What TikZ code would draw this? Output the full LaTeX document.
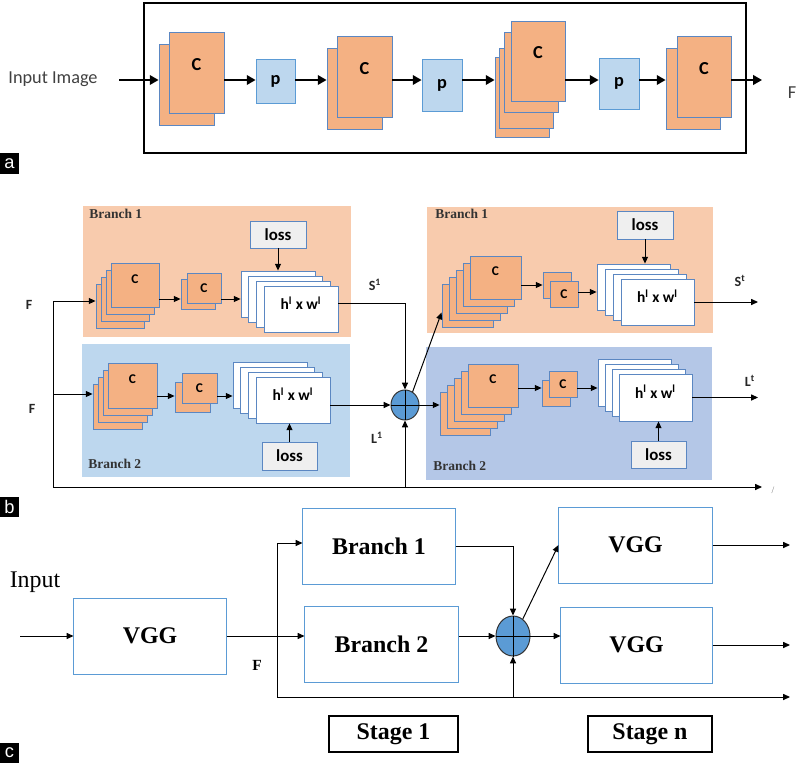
\documentclass[tikz,border=0pt]{standalone}
\usepackage{fontspec}
\setmainfont{Liberation Serif}
\newfontfamily\calfont{Carlito}
\newfontfamily\tagfont{Liberation Sans}
\usetikzlibrary{arrows.meta,calc,shapes.geometric,shadows}

\definecolor{cfill}{HTML}{F4B183}
\definecolor{cline}{HTML}{5B87C2}
\definecolor{pfill}{HTML}{BDD7EE}
\definecolor{pline}{HTML}{5B9BD5}
\definecolor{orbg}{HTML}{F8CBAD}
\definecolor{blbg}{HTML}{BDD7EE}
\definecolor{blbgdk}{HTML}{B4C7E7}
\definecolor{lossfill}{HTML}{EFEFEF}
\definecolor{sumfill}{HTML}{5B9BD5}
\definecolor{txtgray}{HTML}{404040}

\begin{document}
\begin{tikzpicture}[x=0.025cm, y=-0.025cm,
  pile/.style 2 args={copy shadow={shadow xshift=#1*0.025cm, shadow yshift=#2*-0.025cm}},
  ccard/.style={draw=cline, fill=cfill, line width=0.6pt, inner sep=0pt},
  bigCa/.style={ccard, text depth=12pt, font=\calfont\bfseries\fontsize{13}{15}\selectfont},
  bigCb/.style={ccard, text depth=9pt, font=\calfont\bfseries\fontsize{9.5}{11}\selectfont},
  smallC/.style={ccard, font=\calfont\bfseries\fontsize{9.5}{11}\selectfont},
  pcard/.style={draw=pline, fill=pfill, line width=0.6pt, inner sep=0pt, font=\calfont\bfseries\fontsize{13}{15}\selectfont},
  hcard/.style={draw=cline, fill=white, line width=0.6pt, inner sep=0pt, text depth=8pt, font=\calfont\bfseries\fontsize{11}{13}\selectfont},
  lossbox/.style={draw=cline, fill=lossfill, line width=0.6pt, inner sep=0pt, font=\calfont\bfseries\fontsize{12}{14}\selectfont},
  bgbox/.style={inner sep=0pt},
  frame/.style={draw=black, line width=1.6pt, minimum width=15.05cm, minimum height=3.75cm},
  vggbox/.style={draw=pline, fill=white, line width=0.7pt, minimum height=1.9cm, font=\bfseries\fontsize{17}{20}\selectfont},
  stagebox/.style={draw=black, line width=1pt, minimum height=0.9cm, font=\bfseries\fontsize{17}{20}\selectfont},
  sumnode/.style={ellipse, draw=black!80, fill=sumfill, line width=0.7pt, inner sep=0pt},
  arrA/.style={-{Triangle[length=2.2mm,width=2.4mm]}, line width=1.2pt},
  arr/.style={-{Triangle[length=1.7mm,width=1.5mm]}, line width=0.7pt},
  lab/.style={font=\calfont\bfseries\fontsize{10}{12}\selectfont, text=black!85},
  brlab/.style={font=\bfseries\fontsize{9.6}{11}\selectfont, text=black!80, anchor=west, inner sep=0pt},
  tag/.style={fill=black, text=white, inner sep=0pt, minimum width=0.475cm, minimum height=0.5cm, font=\tagfont\fontsize{13}{13}\selectfont}]
\useasboundingbox (0,0) rectangle (798,763);

% ---------- (a) ----------
\node[frame] (boxa) at (445,78) {};
\node[font=\calfont\fontsize{13}{15}\selectfont, text=txtgray] (inimg) at (53,79) {Input Image};
\node[bigCa, minimum width=1.375cm, minimum height=2.025cm, pile={-10}{12}] (c1a) at (196.5,72.5) {C};
\node[pcard, minimum width=0.975cm, minimum height=1.1cm] (p1a) at (275.5,81) {p};
\node[bigCa, minimum width=1.375cm, minimum height=2.025cm, pile={-10}{12}] (c2a) at (364.5,76.5) {C};
\node[pcard, minimum width=1cm, minimum height=1.3cm] (p2a) at (442,85) {p};
\node[bigCa, minimum width=1.35cm, minimum height=2cm, pile={-16}{36}, pile={-12}{27}, pile={-7}{11}] (c3a) at (538,61) {C};
\node[pcard, minimum width=1cm, minimum height=1.275cm] (p3a) at (619,83.5) {p};
\node[bigCa, minimum width=1.35cm, minimum height=2.025cm, pile={-11}{12}] (c4a) at (704,76.5) {C};
\node[font=\calfont\fontsize{13}{15}\selectfont, text=txtgray] (fa) at (792,93) {F};
\node[tag] (taga) at (9.5,163.5) {a};

\coordinate (rowa) at (0,80);
\coordinate (outa) at (762,80);
\coordinate (c1a-b) at ($(c1a.west)+(-10,0)$);
\coordinate (c2a-b) at ($(c2a.west)+(-10,0)$);
\coordinate (c3a-b) at ($(c3a.west)+(-16,0)$);
\coordinate (c4a-b) at ($(c4a.west)+(-11,0)$);
\draw[arrA, shorten <=0.42cm] (inimg.east |- rowa) -- (c1a-b |- rowa);
\draw[arrA] (c1a.east |- rowa) -- (p1a.west |- rowa);
\draw[arrA] (p1a.east |- rowa) -- (c2a-b |- rowa);
\draw[arrA] (c2a.east |- rowa) -- (p2a.west |- rowa);
\draw[arrA] (p2a.east |- rowa) -- (c3a-b |- rowa);
\draw[arrA] (c3a.east |- rowa) -- (p3a.west |- rowa);
\draw[arrA] (p3a.east |- rowa) -- (c4a-b |- rowa);
\draw[arrA] (c4a.east |- rowa) -- (outa);

% ---------- (b) ----------
\node[bgbox, fill=orbg, minimum width=6.7cm, minimum height=3.275cm] (bg1l) at (217,271.5) {};
\node[bgbox, fill=blbg, minimum width=6.7cm, minimum height=3.325cm] (bg2l) at (216,410.5) {};
\node[bgbox, fill=orbg, minimum width=7.15cm, minimum height=3.15cm] (bg1r) at (570,270) {};
\node[bgbox, fill=blbgdk, minimum width=7.15cm, minimum height=3.325cm] (bg2r) at (569,413.5) {};
\node[brlab] (t1l) at (89,214) {Branch 1};
\node[brlab] (t2l) at (88,464) {Branch 2};
\node[brlab] (t1r) at (435,214) {Branch 1};
\node[brlab] (t2r) at (433,466) {Branch 2};

% branch 1, stage 1
\node[bigCb, minimum width=1.2cm, minimum height=1.1cm, pile={-15}{21}, pile={-10}{14}, pile={-5}{7}] (c1l) at (135,285) {C};
\node[smallC, minimum width=0.85cm, minimum height=0.75cm, pile={-6}{6}] (sc1l) at (204,288) {C};
\node[hcard, minimum width=1.85cm, minimum height=1.15cm, pile={-23}{-15}, pile={-16}{-10}, pile={-8}{-5}] (h1l) at (301,309) {h\textsuperscript{l} x w\textsuperscript{l}};
\node[lossbox, minimum width=1.4cm, minimum height=0.675cm] (l1l) at (278,234.5) {loss};
% branch 2, stage 1
\node[bigCb, minimum width=1.225cm, minimum height=1.125cm, pile={-15}{21}, pile={-10}{14}, pile={-5}{7}] (c2l) at (132.5,385.5) {C};
\node[smallC, minimum width=0.875cm, minimum height=0.75cm, pile={-7}{9}] (sc2l) at (199.5,388) {C};
\node[hcard, minimum width=1.85cm, minimum height=1.15cm, pile={-23}{-15}, pile={-16}{-10}, pile={-8}{-5}] (h2l) at (293,400) {h\textsuperscript{l} x w\textsuperscript{l}};
\node[lossbox, minimum width=1.375cm, minimum height=0.7cm] (l2l) at (289.5,456) {loss};
% branch 1, stage t
\node[bigCb, minimum width=1.275cm, minimum height=1.075cm, pile={-28}{28}, pile={-21}{21}, pile={-14}{14}, pile={-7}{7}] (c1r) at (495.5,277.5) {C};
\node[smallC, minimum width=0.7cm, minimum height=0.65cm, pile={-7}{-9}] (sc1r) at (564,294) {C};
\node[hcard, minimum width=1.825cm, minimum height=1.15cm, pile={-24}{-15}, pile={-16}{-10}, pile={-8}{-5}] (h1r) at (657.5,302) {h\textsuperscript{l} x w\textsuperscript{l}};
\node[lossbox, minimum width=1.4cm, minimum height=0.7cm] (l1r) at (645,225) {loss};
% branch 2, stage t
\node[bigCb, minimum width=1.25cm, minimum height=1.075cm, pile={-28}{28}, pile={-21}{21}, pile={-14}{14}, pile={-7}{7}] (c2r) at (493,385.5) {C};
\node[smallC, minimum width=0.7cm, minimum height=0.65cm, pile={-7}{9}] (sc2r) at (563,384) {C};
\node[hcard, minimum width=1.825cm, minimum height=1.175cm, pile={-21}{-15}, pile={-14}{-10}, pile={-7}{-5}] (h2r) at (655.5,397.5) {h\textsuperscript{l} x w\textsuperscript{l}};
\node[lossbox, minimum width=1.375cm, minimum height=0.675cm] (l2r) at (658.5,454.5) {loss};

\node[sumnode, minimum width=0.7cm, minimum height=0.75cm] (sumb) at (405,405) {};
\draw[line width=0.7pt] (sumb.north) -- (sumb.south) (sumb.west) -- (sumb.east);

\node[lab] (fb1lab) at (29,305) {F};
\node[lab] (fb2lab) at (32,409) {F};
\node[lab] (s1lab) at (375,285) {S\textsuperscript{1}};
\node[lab] (l1lab) at (377,438) {L\textsuperscript{1}};
\node[lab] (stlab) at (740,281) {S\textsuperscript{t}};
\node[lab] (ltlab) at (750,381) {L\textsuperscript{t}};
\node[text=black!50, font=\fontsize{7}{8}\selectfont] (tick) at (773,490) {/};
\node[tag] (tagb) at (9.5,507) {b};

\coordinate (fb1) at (53,301);
\coordinate (fb2) at (53,394);
\coordinate (fb0) at (53,487);
\coordinate (endb) at (762,487);
\coordinate (outxb) at (758,0);
\coordinate (c1l-b) at ($(c1l.west)+(-15,21)$);
\coordinate (c2l-b) at ($(c2l.west)+(-15,21)$);
\coordinate (sc1l-b) at ($(sc1l.west)+(-6,6)$);
\coordinate (sc2l-b) at ($(sc2l.west)+(-7,9)$);
\coordinate (h1l-b) at ($(h1l.west)+(-23,-15)$);
\coordinate (h2l-b) at ($(h2l.west)+(-23,-15)$);
\coordinate (h1l-top) at ($(h1l.north)+(0,-15)$);
\coordinate (c1r-b) at ($(c1r.west)+(-28,35)$);
\coordinate (c2r-b) at ($(c2r.west)+(-28,28)$);
\coordinate (sc1r-b) at ($(sc1r.west)+(-7,-9)$);
\coordinate (sc2r-b) at ($(sc2r.west)+(-7,9)$);
\coordinate (h1r-b) at ($(h1r.west)+(-24,-15)$);
\coordinate (h2r-b) at ($(h2r.west)+(-21,-15)$);
\coordinate (h1r-top) at ($(h1r.north)+(0,-15)$);
\coordinate (r1l) at (0,299);
\coordinate (r2l) at (0,396);
\coordinate (r1r) at (0,285);
\coordinate (r1rb) at (0,292);
\coordinate (r2r) at (0,388);

\draw[line width=0.7pt] (fb1) -- (fb0);
\draw[arr] (fb0) -- (endb);
\draw[arr] (fb1) -- (c1l-b |- fb1);
\draw[arr] (fb2) -- (c2l-b |- fb2);
\draw[arr] (c1l.east |- r1l) -- (sc1l-b |- r1l);
\draw[arr] (sc1l.east |- r1l) -- (h1l-b |- r1l);
\draw[arr] (l1l.south) -- (l1l.south |- h1l-top);
\draw[arr] (c2l.east |- r2l) -- (sc2l-b |- r2l);
\draw[arr] (sc2l.east |- r2l) -- (h2l-b |- r2l);
\draw[arr] (l2l.north) -- (l2l.north |- h2l.south);
\draw[arr] ($(h1l.east)+(0,-6)$) -| (sumb.north);
\draw[arr] (h2l.east |- sumb.west) -- (sumb.west);
\draw[arr] (sumb.south |- fb0) -- (sumb.south);
\draw[arr] (sumb.east) -- (c2r-b |- sumb.east);
\draw[arr] (sumb.60) -- (c1r-b);
\draw[arr] (c1r.east |- r1r) -- (sc1r-b |- r1r);
\draw[arr] (sc1r.east |- r1rb) -- (h1r-b |- r1rb);
\draw[arr] (l1r.south) -- (l1r.south |- h1r-top);
\draw[arr] (c2r.east |- r2r) -- (sc2r-b |- r2r);
\draw[arr] (sc2r.east |- r2r) -- (h2r-b |- r2r);
\draw[arr] (l2r.north) -- (l2r.north |- h2r.south);
\draw[arr] (h1r.east) -- (h1r.east -| outxb);
\draw[arr] (h2r.east) -- (h2r.east -| outxb);

% ---------- (c) ----------
\node[font=\fontsize{17}{20}\selectfont] (inp) at (35,582) {Input};
\node[vggbox, minimum width=3.8cm] (vgg0) at (150,636) {VGG};
\node[vggbox, minimum width=3.8cm] (br1) at (379,546) {Branch 1};
\node[vggbox, minimum width=3.825cm] (br2) at (381.5,644) {Branch 2};
\node[vggbox, minimum width=3.825cm] (vgg1) at (635.5,545) {VGG};
\node[vggbox, minimum width=3.775cm] (vgg2) at (636.5,645) {VGG};
\node[stagebox, minimum width=3.225cm] (stg1) at (393.5,734) {Stage 1};
\node[stagebox, minimum width=3.1cm] (stgn) at (650,734) {Stage n};
\node[sumnode, minimum width=0.85cm, minimum height=1cm] (sumc) at (513,636) {};
\draw[line width=0.7pt] (sumc.north) -- (sumc.south) (sumc.west) -- (sumc.east);
\node[font=\bfseries\fontsize{11}{13}\selectfont] (fc) at (257,665) {F};
\node[tag] (tagc) at (9.5,753) {c};

\coordinate (cin) at (20,636);
\coordinate (ctop) at (277,543);
\coordinate (cbot) at (277,697);
\coordinate (cend) at (790,697);
\coordinate (outxc) at (790,0);
\draw[arr] (cin) -- (vgg0.west);
\draw[arr] (vgg0.east) -- (br2.west |- vgg0.east);
\draw[arr] (cbot) -- (ctop) -- (br1.west |- ctop);
\draw[arr] (cbot) -- (cend);
\draw[arr] (br1.east) -| (sumc.north);
\draw[arr] (br2.east |- sumc.west) -- (sumc.west);
\draw[arr] (sumc.south |- cbot) -- (sumc.south);
\draw[arr] (sumc.east) -- (vgg2.west |- sumc.east);
\draw[arr] (sumc.60) -- (vgg1.west);
\draw[arr] (vgg1.east) -- (vgg1.east -| outxc);
\draw[arr] (vgg2.east) -- (vgg2.east -| outxc);
\end{tikzpicture}
\end{document}
